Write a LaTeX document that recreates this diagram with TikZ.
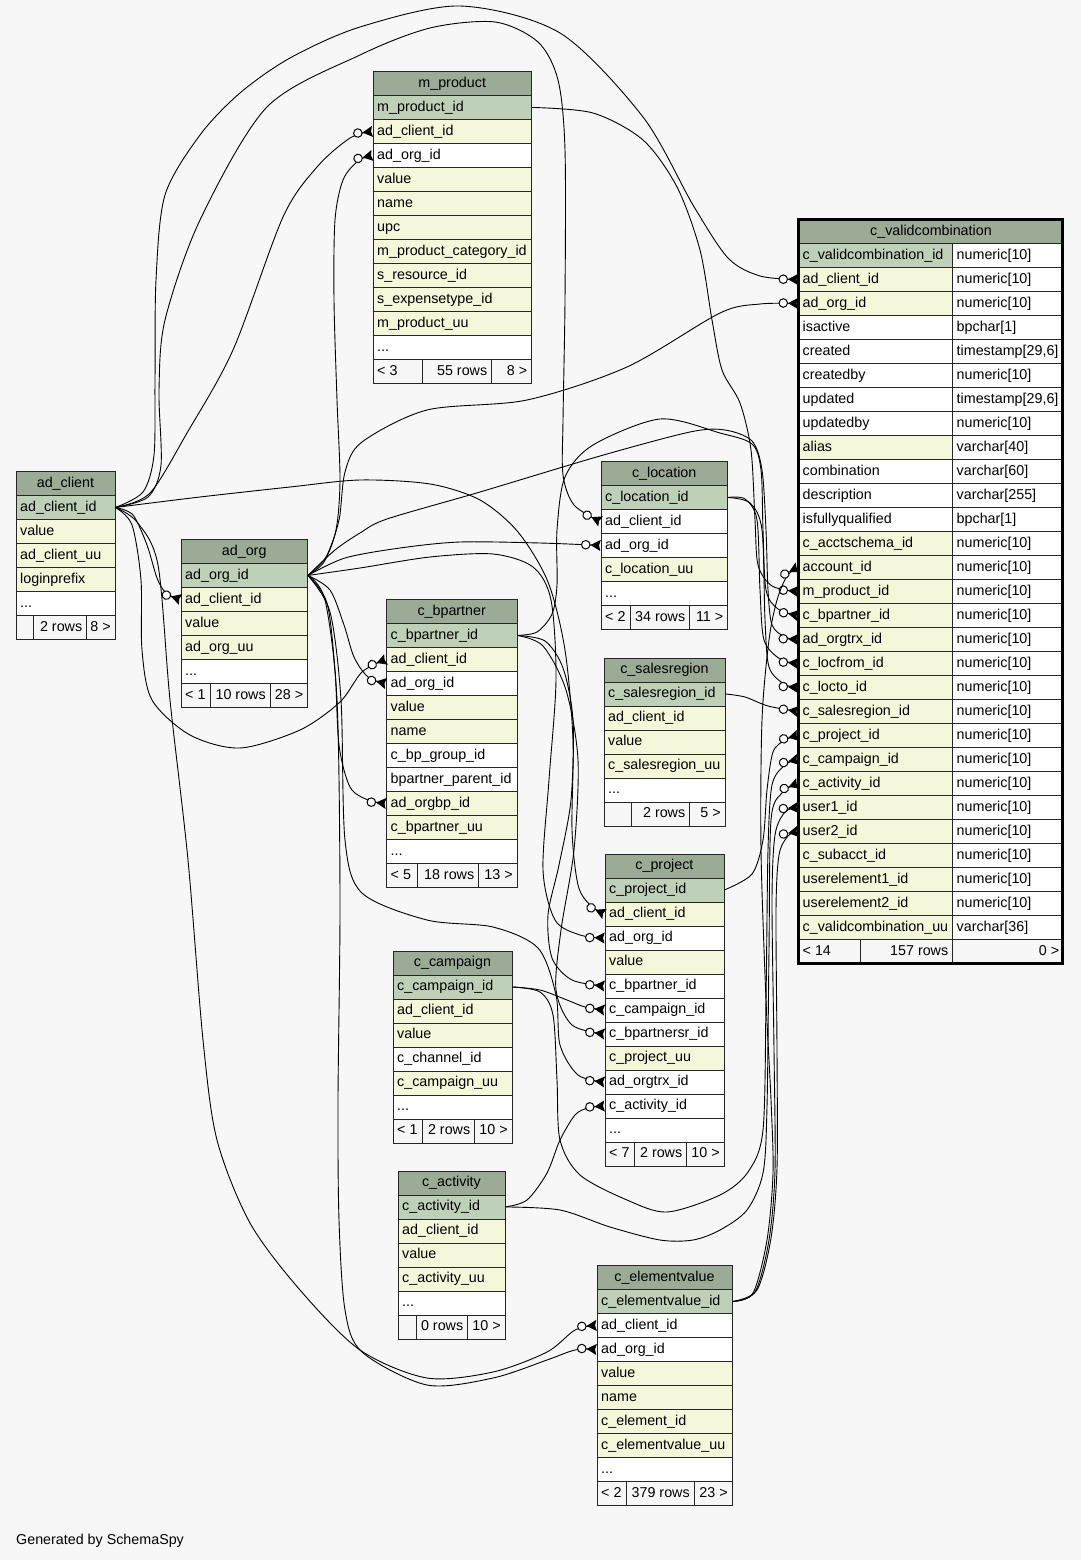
\documentclass[tikz,border=0pt]{standalone}
\usepackage{fontspec}
\setmainfont{Liberation Sans}
\usetikzlibrary{arrows.meta}
\definecolor{hdrc}{HTML}{9BAB96}
\definecolor{pk}{HTML}{BFD0B9}
\definecolor{idx}{HTML}{F4F7DA}
\definecolor{bgc}{HTML}{F7F7F7}
\definecolor{wh}{HTML}{FFFFFF}
\newcommand\tf{\fontsize{14.3pt}{17pt}\selectfont}
\newcommand\threedots{...}
\tikzset{
  thead/.style={draw=black!85, line width=0.9pt, fill=hdrc, minimum height=24pt, inner sep=0pt, anchor=north west, font=\tf, text height=11pt, text depth=3pt},
  cell/.style={draw=black!85, line width=0.9pt, minimum height=24pt, inner sep=0pt, anchor=north west},
  fcell/.style={cell, fill=bgc},
  txt/.style={anchor=base west, inner sep=0pt, font=\tf},
  txtr/.style={anchor=base east, inner sep=0pt, font=\tf},
  fk/.style={line width=0.9pt, draw=black, line join=round, -{Circle[fill=white,length=9.5pt,line width=1pt]Stealth[reversed,length=10pt,width=11pt,inset=1.5pt]}},
}
% name, x, y, width, header, rows
\newcommand\dbtab[6]{%
  \node[thead, minimum width=#4pt] (#1-0) at (#2,#3) {#5};
  \foreach \tx/\cl [count=\i] in {#6}{
    \node[cell, fill=\cl, minimum width=#4pt] (#1-\i) at (#2,#3+24*\i) {};
    \node[txt] (#1-\i-t) at ([xshift=4.5pt,yshift=-4pt]#1-\i.west) {\tx};
  }
}
% name, y, x1, x2, x3, x4, t1, t2, t3
\newcommand\dbfoot[9]{%
  \node[fcell, minimum width={#4-#3}] (#1-f1) at (#3,#2) {};
  \node[fcell, minimum width={#5-#4}] (#1-f2) at (#4,#2) {};
  \node[fcell, minimum width={#6-#5}] (#1-f3) at (#5,#2) {};
  \node[txt] (#1-f1t) at ([xshift=4.5pt,yshift=-4pt]#1-f1.west) {#7};
  \node[txtr] (#1-f2t) at ([xshift=-4.5pt,yshift=-4pt]#1-f2.east) {#8};
  \node[txtr] (#1-f3t) at ([xshift=-4.5pt,yshift=-4pt]#1-f3.east) {#9};
}
\begin{document}
\begin{tikzpicture}[x=1pt,y=-1pt]
\fill[bgc] (0,0) rectangle (1081,1560);
\useasboundingbox (0,0) rectangle (1081,1560);

% ---------- tables ----------
\dbtab{mp}{372.5}{71}{158.5}{m\_product}{m\_product\_id/pk, ad\_client\_id/idx, ad\_org\_id/wh, value/idx, name/idx, upc/idx, m\_product\_category\_id/idx, s\_resource\_id/idx, s\_expensetype\_id/idx, m\_product\_uu/idx, \threedots/wh}
\dbfoot{mp}{359}{372.5}{422}{491}{531}{< 3}{55 rows}{8 >}

\dbtab{ac}{15.5}{471}{99}{ad\_client}{ad\_client\_id/pk, value/idx, ad\_client\_uu/idx, loginprefix/idx, \threedots/wh}
\dbfoot{ac}{615}{15.5}{33}{86}{114.5}{}{2 rows}{8 >}

\dbtab{ao}{180.5}{539}{126.5}{ad\_org}{ad\_org\_id/pk, ad\_client\_id/idx, value/idx, ad\_org\_uu/idx, \threedots/wh}
\dbfoot{ao}{683}{180.5}{209.5}{269.5}{307}{< 1}{10 rows}{28 >}

\dbtab{bp}{386}{599}{130.5}{c\_bpartner}{c\_bpartner\_id/pk, ad\_client\_id/idx, ad\_org\_id/wh, value/idx, name/idx, c\_bp\_group\_id/wh, bpartner\_parent\_id/wh, ad\_orgbp\_id/idx, c\_bpartner\_uu/idx, \threedots/wh}
\dbfoot{bp}{863}{386}{417}{478}{516.5}{< 5}{18 rows}{13 >}

\dbtab{lo}{600.5}{461}{126.5}{c\_location}{c\_location\_id/pk, ad\_client\_id/wh, ad\_org\_id/wh, c\_location\_uu/idx, \threedots/wh}
\dbfoot{lo}{605}{600.5}{630}{689}{727}{< 2}{34 rows}{11 >}

\dbtab{sr}{603.5}{657.5}{121}{c\_salesregion}{c\_salesregion\_id/pk, ad\_client\_id/idx, value/idx, c\_salesregion\_uu/idx, \threedots/wh}
\dbfoot{sr}{801.5}{603.5}{631}{689}{724.5}{}{2 rows}{5 >}

\dbtab{pj}{604.5}{853.5}{119}{c\_project}{c\_project\_id/pk, ad\_client\_id/idx, ad\_org\_id/wh, value/idx, c\_bpartner\_id/wh, c\_campaign\_id/wh, c\_bpartnersr\_id/wh, c\_project\_uu/idx, ad\_orgtrx\_id/wh, c\_activity\_id/wh, \threedots/wh}
\dbfoot{pj}{1141.5}{604.5}{634}{686}{723.5}{< 7}{2 rows}{10 >}

\dbtab{cp}{392.5}{950.5}{119}{c\_campaign}{c\_campaign\_id/pk, ad\_client\_id/idx, value/idx, c\_channel\_id/wh, c\_campaign\_uu/idx, \threedots/wh}
\dbfoot{cp}{1118.5}{392.5}{422}{474}{511.5}{< 1}{2 rows}{10 >}

\dbtab{ca}{397.5}{1170.5}{107}{c\_activity}{c\_activity\_id/pk, ad\_client\_id/idx, value/idx, c\_activity\_uu/idx, \threedots/wh}
\dbfoot{ca}{1314.5}{397.5}{415.5}{467}{504.5}{}{0 rows}{10 >}

\dbtab{ev}{596.5}{1265}{135}{c\_elementvalue}{c\_elementvalue\_id/pk, ad\_client\_id/wh, ad\_org\_id/wh, value/idx, name/idx, c\_element\_id/idx, c\_elementvalue\_uu/idx, \threedots/wh}
\dbfoot{ev}{1481}{596.5}{626}{693.5}{731.5}{< 2}{379 rows}{23 >}

% c_validcombination (two columns, bold frame)
\node[thead, minimum width=265pt] (cv-0) at (798,219) {c\_validcombination};
\foreach \tx/\cl/\ty [count=\i] in {c\_validcombination\_id/pk/numeric[10], ad\_client\_id/idx/numeric[10], ad\_org\_id/idx/numeric[10], isactive/wh/bpchar[1], created/wh/{timestamp[29,6]}, createdby/wh/numeric[10], updated/wh/{timestamp[29,6]}, updatedby/wh/numeric[10], alias/idx/varchar[40], combination/wh/varchar[60], description/wh/varchar[255], isfullyqualified/wh/bpchar[1], c\_acctschema\_id/idx/numeric[10], account\_id/idx/numeric[10], m\_product\_id/idx/numeric[10], c\_bpartner\_id/idx/numeric[10], ad\_orgtrx\_id/idx/numeric[10], c\_locfrom\_id/idx/numeric[10], c\_locto\_id/idx/numeric[10], c\_salesregion\_id/idx/numeric[10], c\_project\_id/idx/numeric[10], c\_campaign\_id/idx/numeric[10], c\_activity\_id/idx/numeric[10], user1\_id/idx/numeric[10], user2\_id/idx/numeric[10], c\_subacct\_id/idx/numeric[10], userelement1\_id/idx/numeric[10], userelement2\_id/idx/numeric[10], c\_validcombination\_uu/idx/varchar[36]}{
  \node[cell, fill=\cl, minimum width=154pt] (cv-\i) at (798,219+24*\i) {};
  \node[cell, fill=wh, minimum width=111pt] (cv-\i-b) at (952,219+24*\i) {};
  \node[txt] (cv-\i-t) at ([xshift=4.5pt,yshift=-4pt]cv-\i.west) {\tx};
  \node[txt] (cv-\i-u) at ([xshift=4.5pt,yshift=-4pt]cv-\i-b.west) {\ty};
}
\dbfoot{cv}{939}{798}{860}{952}{1063}{< 14}{157 rows}{0 >}
\draw[line width=3pt] (798.2,219.8) rectangle (1062.6,963.5);

\node[txt] (gen) at (16,1544) {Generated by SchemaSpy};

% ---------- connectors ----------
% from ad_client
\draw[fk] plot[smooth] coordinates {(ac-1.east) (150,493) (187,433) (233,350) (283,217) (317,167) (350,138) (mp-2.west)};
\draw[fk] plot[smooth] coordinates {(ac-1.east) (143,492) (154,455) (155,380) (156,280) (165,195) (200,135) (240,93) (290,58) (360,27) (460,6) (560,33) (643,117) (693,205) (728,258) (760,276) (cv-2.west)};
\draw[fk] plot[smooth] coordinates {(ac-1.east) (148,497) (161,465) (159,390) (165,320) (200,220) (267,107) (360,55) (430,28) (495,22) (538,42) (558,80) (565,150) (565,300) (563,420) (563,475) (574,505) (lo-2.west)};
\draw[fk] plot[smooth] coordinates {(ac-1.east) (133,515) (147,545) (157,578) (166,593) (ao-2.west)};
\draw[fk] plot[smooth] coordinates {(ac-1.east) (132,525) (141,580) (142,650) (152,700) (190,735) (240,748) (300,730) (340,702) (362,672) (bp-2.west)};
\draw[fk] plot[smooth] coordinates {(ac-1.east) (200,497) (290,487) (360,480) (430,484) (480,500) (518,532) (548,582) (565,650) (573,740) (572,830) (578,885) (590,905) (pj-2.west)};
\draw[fk] plot[smooth] coordinates {(ac-1.east) (137,522) (158,565) (170,700) (188,860) (203,1040) (217,1140) (250,1223) (300,1290) (360,1350) (427,1378) (493,1372) (547,1352) (575,1330) (ev-2.west)};
% from ad_org
\draw[fk] plot[smooth] coordinates {(ao-1.east) (324,562) (336,530) (340,480) (337,400) (334,300) (335,220) (343,180) (358,161) (mp-3.west)};
\draw[fk] plot[smooth] coordinates {(ao-1.east) (326,557) (339,520) (345,472) (362,442) (427,410) (527,400) (627,367) (720,313) (760,304) (cv-3.west)};
\draw[fk] plot[smooth] coordinates {(ao-1.east) (345,558) (400,548) (460,542) (540,543) (lo-3.west)};
\draw[fk] plot[smooth] coordinates {(ao-1.east) (330,590) (344,625) (354,657) (368,677) (bp-3.west)};
\draw[fk] plot[smooth] coordinates {(ao-1.east) (327,603) (335,670) (339,745) (350,787) (368,800) (bp-8.west)};
\draw[fk] plot[smooth] coordinates {(ao-1.east) (360,568) (430,557) (493,554) (533,567) (551,600) (556,680) (549,780) (543,870) (555,920) (580,935) (pj-3.west)};
\draw[fk] plot[smooth] coordinates {(ao-1.east) (330,612) (341,700) (345,840) (362,893) (427,920) (493,927) (538,948) (556,995) (560,1045) (578,1075) (pj-9.west)};
\draw[fk] plot[smooth] coordinates {(ao-1.east) (325,600) (337,700) (340,900) (338,1100) (339,1220) (345,1310) (362,1352) (427,1385) (493,1378) (547,1360) (575,1350) (ev-3.west)};
\draw[fk] plot[smooth] coordinates {(ao-1.east) (335,550) (360,533) (387,519) (480,492) (600,456) (690,432) (725,430) (752,441) (762,470) (766,530) (768,590) (772,625) (785,637) (cv-17.west)};
% from m_product
\draw[fk] plot[smooth] coordinates {(mp-1.east) (593,113) (643,140) (677,187) (700,250) (712,320) (722,370) (740,403) (751,450) (755,520) (758,565) (772,586) (cv-15.west)};
% from c_bpartner
\draw[fk] plot[smooth] coordinates {(bp-1.east) (537,632) (552,614) (557,585) (557,530) (565,477) (593,445) (660,419) (720,433) (752,444) (761,470) (763,530) (766,590) (778,609) (cv-16.west)};
\draw[fk] plot[smooth] coordinates {(bp-1.east) (545,641) (563,668) (573,720) (571,800) (559,865) (548,915) (552,958) (572,980) (pj-5.west)};
\draw[fk] plot[smooth] coordinates {(bp-1.east) (543,646) (566,690) (578,760) (574,850) (561,930) (556,990) (572,1025) (pj-7.west)};
% from c_location
\draw[fk] plot[smooth] coordinates {(lo-1.east) (745,499) (757,520) (760,590) (764,640) (780,659) (cv-18.west)};
\draw[fk] plot[smooth] coordinates {(lo-1.east) (750,503) (762,530) (765,620) (769,667) (784,684) (cv-19.west)};
% from c_salesregion
\draw[fk] plot[smooth] coordinates {(sr-1.east) (745,697) (768,706) (cv-20.west)};
% from c_project
\draw[fk] plot[smooth] coordinates {(pj-1.east) (752,874) (763,840) (767,790) (773,752) (785,740) (cv-21.west)};
% from c_campaign
\draw[fk] plot[smooth] coordinates {(cp-1.east) (540,990) (567,1000) (585,1007) (pj-6.west)};
\draw[fk] plot[smooth] coordinates {(cp-1.east) (540,992) (553,1015) (557,1080) (560,1140) (580,1175) (627,1200) (667,1212) (720,1195) (748,1172) (763,1130) (766,1000) (768,850) (772,785) (785,765) (cv-22.west)};
% from c_activity
\draw[fk] plot[smooth] coordinates {(ca-1.east) (527,1200) (547,1173) (560,1140) (575,1115) (588,1108) (pj-10.west)};
\draw[fk] plot[smooth] coordinates {(ca-1.east) (560,1210) (610,1227) (660,1240) (693,1240) (720,1230) (747,1210) (763,1173) (767,1107) (769,950) (771,820) (782,793) (cv-23.west)};
% from c_elementvalue
\draw[fk] plot[smooth] coordinates {(ev-1.east) (753,1293) (767,1240) (773,1173) (771,1100) (766,1000) (761,850) (762,720) (769,640) (777,600) (787,576) (cv-14.west)};
\draw[fk] plot[smooth] coordinates {(ev-1.east) (755,1292) (769,1240) (775,1170) (774,1050) (772,900) (775,835) (785,812) (cv-24.west)};
\draw[fk] plot[smooth] coordinates {(ev-1.east) (757,1290) (771,1238) (777,1168) (777,1050) (776,910) (779,855) (788,836) (cv-25.west)};
\end{tikzpicture}
\end{document}
